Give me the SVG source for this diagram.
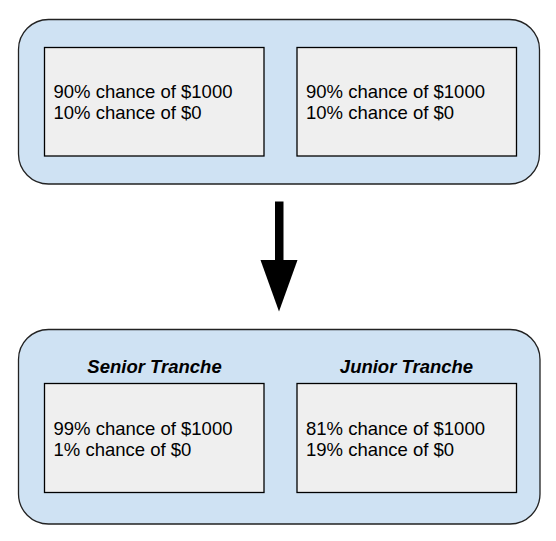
<svg xmlns="http://www.w3.org/2000/svg" width="556" height="541" viewBox="0 0 556 541">
<style>
.outer{fill:#cfe2f3;stroke:#222;stroke-width:1.3}
.inner{fill:#efefef;stroke:#000;stroke-width:1.3}
.t{font-family:"Liberation Sans",Arial,sans-serif;font-size:18.5px;fill:#000}
.h{font-family:"Liberation Sans",Arial,sans-serif;font-size:18.5px;font-weight:bold;font-style:italic;fill:#000;text-anchor:middle}
</style>
<rect width="556" height="541" fill="#fff"/>
<g id="top-group">
<rect class="outer" x="18.5" y="19.5" width="521" height="164.5" rx="30" ry="30"/>
</g>
<g id="top-left">
<rect class="inner" x="44.5" y="47.5" width="219.5" height="108.5"/>
<text class="t" x="53.5" y="98.3">90% chance of $1000</text>
<text class="t" x="53.5" y="119.3">10% chance of $0</text>
</g>
<g id="top-right">
<rect class="inner" x="297" y="47.5" width="219.5" height="108.5"/>
<text class="t" x="306" y="98.3">90% chance of $1000</text>
<text class="t" x="306" y="119.3">10% chance of $0</text>
</g>
<g id="connectors">
<rect x="275" y="201.5" width="8.5" height="59" fill="#000"/>
<polygon points="260.5,260 297.5,260 279,311.5" fill="#000"/>
</g>
<g id="bottom-group">
<rect class="outer" x="18.5" y="329.5" width="521.5" height="194.5" rx="30" ry="30"/>
<text class="h" x="154.5" y="372.5">Senior Tranche</text>
<text class="h" x="406.5" y="372.5">Junior Tranche</text>
</g>
<g id="senior">
<rect class="inner" x="44.5" y="383.5" width="219.5" height="109"/>
<text class="t" x="53.5" y="435.3">99% chance of $1000</text>
<text class="t" x="53.5" y="456.3">1% chance of $0</text>
</g>
<g id="junior">
<rect class="inner" x="297" y="383.5" width="219.5" height="109"/>
<text class="t" x="306" y="435.3">81% chance of $1000</text>
<text class="t" x="306" y="456.3">19% chance of $0</text>
</g>
</svg>
